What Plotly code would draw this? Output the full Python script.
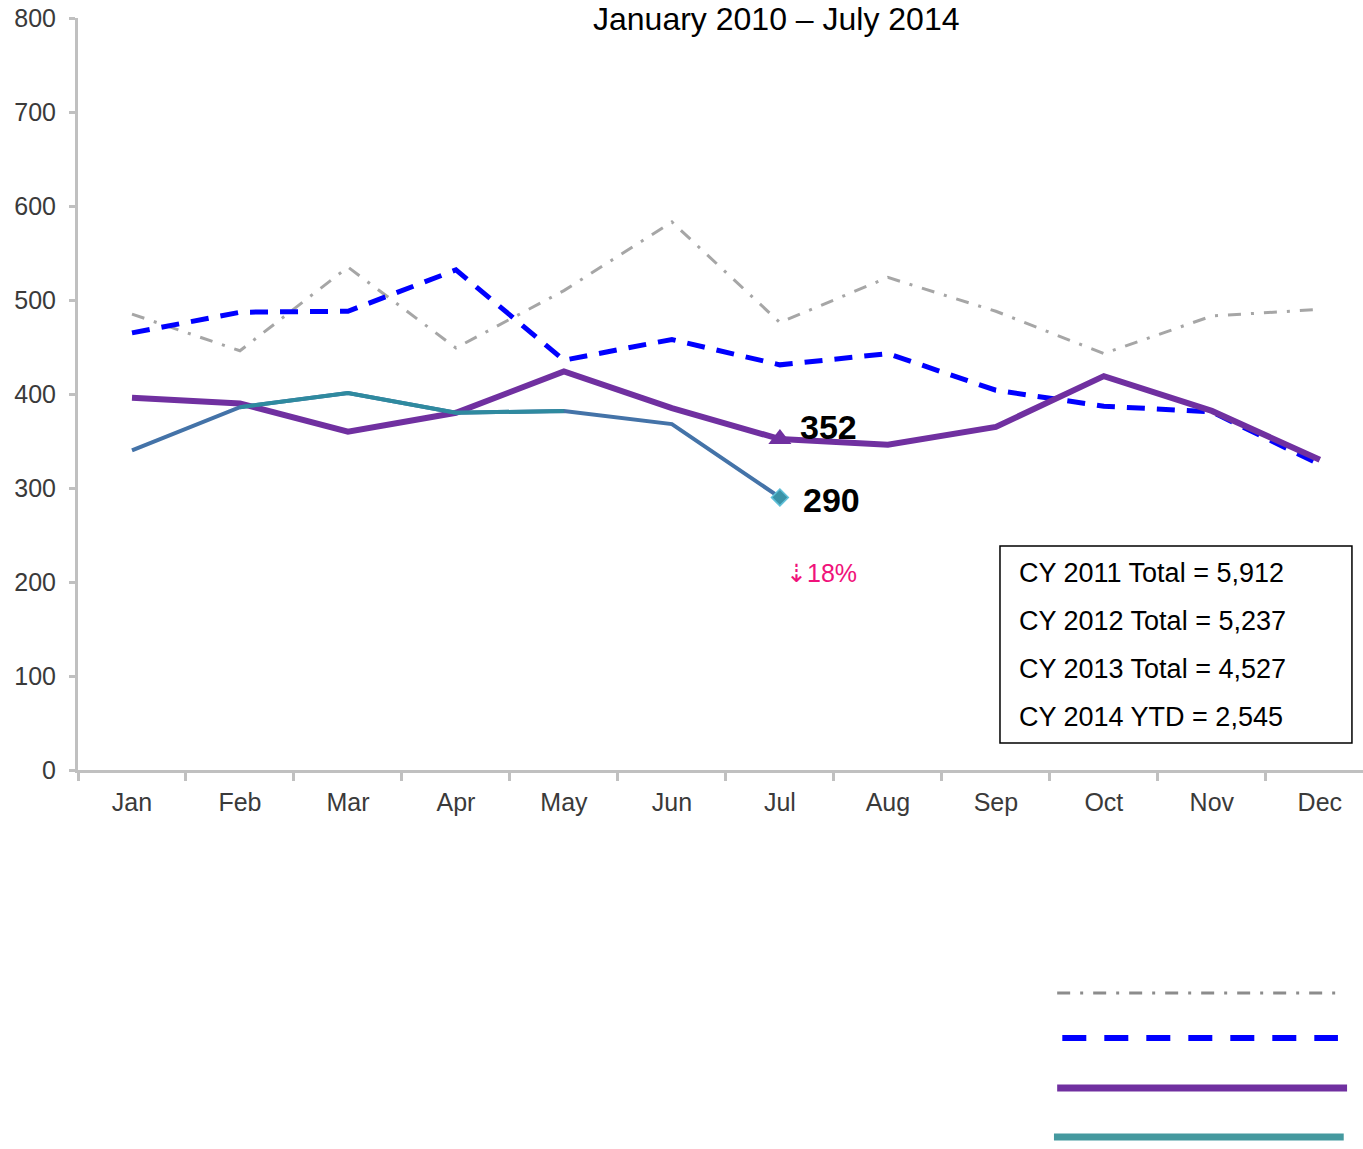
import plotly.graph_objects as go

months = ["Jan", "Feb", "Mar", "Apr", "May", "Jun", "Jul", "Aug", "Sep", "Oct", "Nov", "Dec"]
y2011 = [485, 446, 535, 449, 510, 583, 476, 524, 488, 443, 483, 490]
y2012 = [465, 487, 488, 532, 436, 458, 431, 443, 404, 387, 381, 325]
y2013 = [396, 390, 360, 380, 424, 385, 352, 346, 365, 419, 382, 330]
y2014 = [340, 386, 401, 380, 382, 368, 290]
teal_idx = [1, 2, 3, 4]  # months of 2014 drawn in teal
totals = ["CY 2011 Total = 5,912", "CY 2012 Total = 5,237",
          "CY 2013 Total = 4,527", "CY 2014 YTD = 2,545"]
title_text = "January 2010 \u2013 July 2014"
change_text = "\u21e318%"

FONT = "Liberation Sans, Arial, sans-serif"
AX = "#c0c0c0"

fig = go.Figure()
fig.add_trace(go.Scatter(x=months, y=y2011, mode="lines", name="CY 2011",
                         line=dict(color="#a6a6a6", width=3, dash="13px,10px,3px,10px")))
fig.add_trace(go.Scatter(x=months, y=y2012, mode="lines", name="CY 2012",
                         line=dict(color="#0000ff", width=5, dash="18px,12px")))
fig.add_trace(go.Scatter(x=months, y=y2013, mode="lines", name="CY 2013",
                         line=dict(color="#7030a0", width=6)))
fig.add_trace(go.Scatter(x=months[:len(y2014)], y=y2014, mode="lines", name="CY 2014",
                         line=dict(color="#4473a8", width=4)))
fig.add_trace(go.Scatter(x=[months[i] for i in teal_idx], y=[y2014[i] for i in teal_idx],
                         mode="lines", line=dict(color="#2f8a9f", width=4), showlegend=False))
# end markers
fig.add_trace(go.Scatter(x=[months[6]], y=[y2013[6]], mode="markers",
                         marker=dict(symbol="triangle-up", size=20, color="#7030a0")))
fig.add_trace(go.Scatter(x=[months[len(y2014) - 1]], y=[y2014[-1]], mode="markers",
                         marker=dict(symbol="diamond", size=13, color="#3a93a8",
                                     line=dict(color="#5fc0d8", width=1.5))))

ann = []
ann.append(dict(x=months[6], y=y2013[6], xref="x", yref="y", text="<b>352</b>",
                showarrow=False, xanchor="left", yanchor="middle", xshift=18, yshift=12,
                font=dict(family=FONT, size=34, color="#000")))
ann.append(dict(x=months[6], y=y2014[-1], xref="x", yref="y", text="<b>290</b>",
                showarrow=False, xanchor="left", yanchor="middle", xshift=21, yshift=-3,
                font=dict(family=FONT, size=34, color="#000")))
ann.append(dict(x=months[6], y=y2014[-1], xref="x", yref="y", text=change_text,
                showarrow=False, xanchor="left", yanchor="middle", xshift=4, yshift=-76,
                font=dict(family=FONT, size=25, color="#f0127a")))
ann.append(dict(x=0.5432, y=1.0, xref="paper", yref="paper", text=title_text,
                showarrow=False, xanchor="center", yanchor="top", yshift=18, borderpad=0,
                font=dict(family=FONT, size=32, color="#000")))
box_y = [0.262, 0.198, 0.134, 0.0705]
for t, yy in zip(totals, box_y):
    ann.append(dict(x=0.7307, y=yy, xref="paper", yref="paper", text=t, showarrow=False,
                    xanchor="left", yanchor="middle",
                    font=dict(family=FONT, size=27, color="#000")))

shapes = [dict(type="rect", xref="paper", yref="paper", x0=0.7175, x1=0.9914,
               y0=0.0359, y1=0.2979, line=dict(color="#000", width=1.5), fillcolor="white",
               layer="below")]
legend_samples = [
    ("#8c8c8c", 3, "13px,10px,3px,10px", 0.762, 0.982, -0.2965),
    ("#0000ff", 6, "24px,18px", 0.766, 0.9805, -0.3564),
    ("#7030a0", 7, "solid", 0.762, 0.9876, -0.4229),
    ("#45999f", 7, "solid", 0.7595, 0.985, -0.488),
]
for c, w, d, x0, x1, yy in legend_samples:
    shapes.append(dict(type="line", xref="paper", yref="paper", x0=x0, x1=x1, y0=yy, y1=yy,
                       line=dict(color=c, width=w, dash=d)))

fig.update_layout(
    width=1363, height=1149,
    margin=dict(l=78, r=0, t=18, b=379),
    paper_bgcolor="white", plot_bgcolor="white",
    showlegend=False,
    annotations=ann, shapes=shapes,
    font=dict(family=FONT, color="#333"),
    xaxis=dict(type="category", categoryorder="array", categoryarray=months,
               range=[-0.5, 11.4], showline=True, linecolor=AX, linewidth=3,
               ticks="outside", tickson="boundaries", ticklen=8, tickwidth=3, tickcolor=AX,
               ticklabelstandoff=8,
               showgrid=False, zeroline=False, tickfont=dict(family=FONT, size=25, color="#3a3a3a")),
    yaxis=dict(range=[0, 800], dtick=100, showline=True, linecolor=AX, linewidth=3,
               ticks="outside", ticklen=6, tickwidth=3, tickcolor=AX,
               ticklabelstandoff=8,
               showgrid=False, zeroline=False, tickfont=dict(family=FONT, size=25, color="#3a3a3a")),
)

fig.write_html("out.html", config={"displayModeBar": False},
               post_script="document.body.style.margin='0';document.body.style.overflow='hidden';")
